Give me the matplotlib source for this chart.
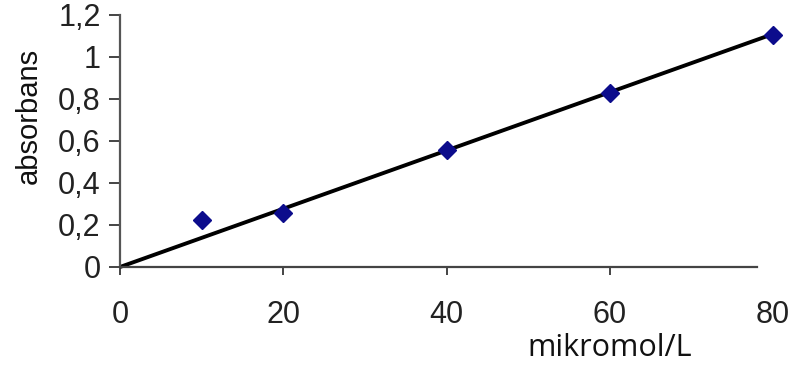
import numpy as np
import matplotlib
matplotlib.use("Agg")
import matplotlib.pyplot as plt

# data
conc = [10, 20, 40, 60, 80]
absorbance = [0.224, 0.257, 0.557, 0.829, 1.105]
x_ticks = [0, 20, 40, 60, 80]
y_ticks = [0, 0.2, 0.4, 0.6, 0.8, 1.0, 1.2]
y_tick_labels = ["0", "0,2", "0,4", "0,6", "0,8", "1", "1,2"]
x_label = "mikromol/L"
y_label = "absorbans"

# linear trendline through origin
xa = np.array(conc, float)
ya = np.array(absorbance, float)
slope = (xa * ya).sum() / (xa * xa).sum()
xfit = np.array([0, 80])
yfit = slope * xfit

fig = plt.figure(figsize=(7.95, 3.72), dpi=100)
ax = fig.add_axes([120 / 795, 1 - 267 / 372, (773 - 120) / 795, (267 - 15) / 372])

ax.plot(xfit, yfit, color="black", lw=2.8, solid_capstyle="butt", zorder=2, clip_on=False)
ax.plot(conc, absorbance, linestyle="none", marker="D", markersize=9,
        color="#0c0c8c", zorder=3, clip_on=False)

ax.set_xlim(0, 80)
ax.set_ylim(0, 1.2)
ax.set_xticks(x_ticks)
ax.set_yticks(y_ticks)
ax.set_yticklabels(y_tick_labels)
ax.xaxis.get_major_ticks()[-1].tick1line.set_visible(False)

for s in ["top", "right"]:
    ax.spines[s].set_visible(False)
ax.spines["left"].set_color("#555555")
ax.spines["left"].set_linewidth(1.6)
ax.spines["bottom"].set_color("#444444")
ax.spines["bottom"].set_linewidth(1.6)
ax.spines["bottom"].set_bounds(0, 78)

ax.tick_params(axis="y", length=8, width=1.4, color="#444444", pad=6,
               labelsize=22, labelcolor="#222222")
ax.tick_params(axis="x", length=6, width=1.4, color="#444444", pad=18,
               labelsize=22, labelcolor="#222222")
for lab in ax.get_xticklabels() + ax.get_yticklabels():
    lab.set_family(["Liberation Sans", "DejaVu Sans"])

ax.set_xlabel(x_label, fontsize=22, color="#111111", family=["Open Sans", "DejaVu Sans"])
ax.xaxis.set_label_coords(0.75, -0.26)
ax.set_ylabel(y_label, fontsize=21, color="#111111",
              family=["Liberation Sans Narrow", "Liberation Sans", "DejaVu Sans"])
ax.yaxis.set_label_coords(-0.118, 0.6)

fig.savefig("out.png", dpi=100)
